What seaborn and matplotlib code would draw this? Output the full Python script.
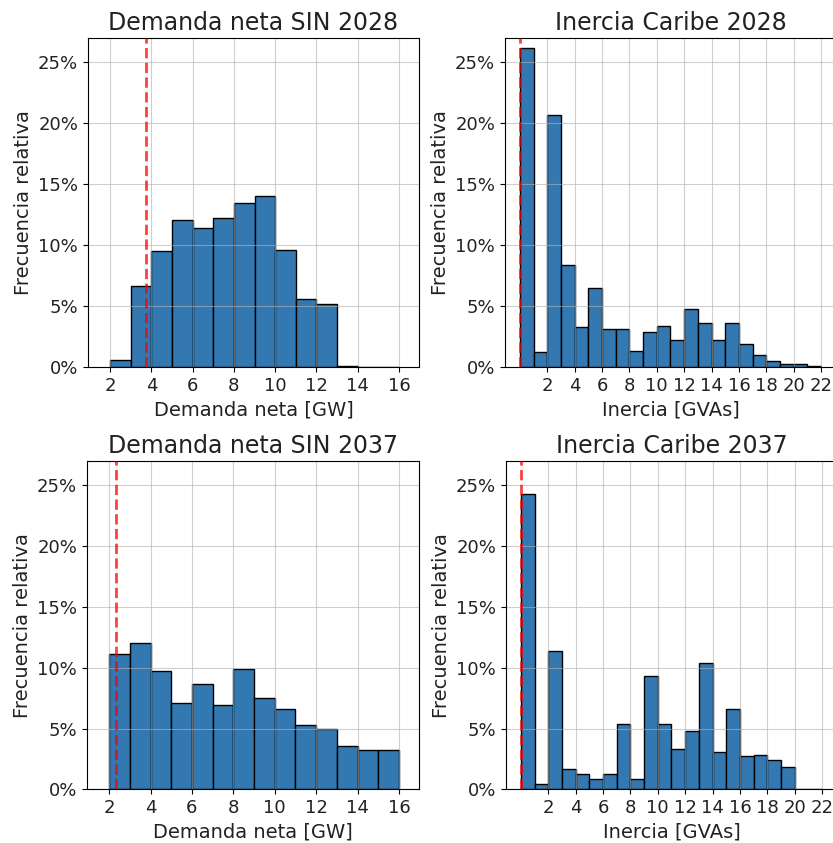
import numpy as np
import pandas as pd
import matplotlib
matplotlib.use('Agg')
import matplotlib.pyplot as plt
import seaborn as sns
from matplotlib.ticker import PercentFormatter

# frecuencia relativa (%) por bin de 1 unidad
dem_edges = list(range(2, 17))
dem_2028 = [0.6, 6.65, 9.5, 12.1, 11.4, 12.2, 13.5, 14.0, 9.6, 5.55, 5.2, 0.08, 0.0, 0.0]
dem_2037 = [11.1, 12.0, 9.7, 7.1, 8.7, 6.9, 9.9, 7.5, 6.6, 5.25, 4.95, 3.55, 3.25, 3.2]

ine_edges = list(range(0, 23))
ine_2028 = [26.2, 1.25, 20.7, 8.4, 3.25, 6.5, 3.1, 3.15, 1.3, 2.85, 3.4, 2.25, 4.75, 3.65,
            2.2, 3.6, 1.9, 0.95, 0.5, 0.22, 0.22, 0.08]
ine_2037 = [24.25, 0.4, 11.35, 1.65, 1.25, 0.85, 1.25, 5.4, 0.85, 9.35, 5.4, 3.3, 4.8, 10.4,
            3.05, 6.6, 2.7, 2.8, 2.4, 1.8, 0.0, 0.0]

umbral_dem = {'2028': 3.75, '2037': 2.35}
umbral_ine = {'2028': 0.0, '2037': 0.0}

color_barra = '#3478b1'
color_texto = '#222222'


def plot_hist(ax, edges, freq, umbral, titulo, xlabel, xticks, xlim):
    centros = [(edges[i] + edges[i + 1]) / 2 for i in range(len(freq))]
    df = pd.DataFrame({'x': centros, 'w': np.array(freq) / 100})
    sns.histplot(data=df, x='x', weights='w', bins=edges, stat='count',
                 color=color_barra, alpha=1, edgecolor='black', linewidth=1, ax=ax)
    ax.axvline(umbral, color='red', linestyle='--', linewidth=2, alpha=0.75, zorder=3)
    ax.set_title(titulo, fontsize=17, color=color_texto)
    ax.set_xlabel(xlabel, fontsize=14, color=color_texto)
    ax.set_ylabel('Frecuencia relativa', fontsize=14, color=color_texto)
    ax.set_ylim(0, 0.27)
    ax.set_xlim(*xlim)
    ax.set_xticks(xticks)
    ax.set_yticks([0, 0.05, 0.10, 0.15, 0.20, 0.25])
    ax.yaxis.set_major_formatter(PercentFormatter(1, decimals=0))
    ax.tick_params(labelsize=13, labelcolor=color_texto)
    ax.grid(True, alpha=0.6)


fig = plt.figure(figsize=(8.33, 8.43), dpi=100)
ax1 = fig.add_axes([0.1056, 0.5646, 0.3974, 0.3903])
ax2 = fig.add_axes([0.6062, 0.5646, 0.3974, 0.3903])
ax3 = fig.add_axes([0.1044, 0.0637, 0.3986, 0.3894])
ax4 = fig.add_axes([0.6074, 0.0637, 0.3974, 0.3894])

plot_hist(ax1, dem_edges, dem_2028, umbral_dem['2028'], 'Demanda neta SIN 2028',
          'Demanda neta [GW]', range(2, 17, 2), (0.93, 16.97))
plot_hist(ax2, ine_edges, ine_2028, umbral_ine['2028'], 'Inercia Caribe 2028',
          'Inercia [GVAs]', range(2, 23, 2), (-1.1, 23.1))
plot_hist(ax3, dem_edges, dem_2037, umbral_dem['2037'], 'Demanda neta SIN 2037',
          'Demanda neta [GW]', range(2, 17, 2), (0.93, 16.97))
plot_hist(ax4, ine_edges, ine_2037, umbral_ine['2037'], 'Inercia Caribe 2037',
          'Inercia [GVAs]', range(2, 23, 2), (-1.1, 23.1))

plt.savefig('out.png', dpi=100)
